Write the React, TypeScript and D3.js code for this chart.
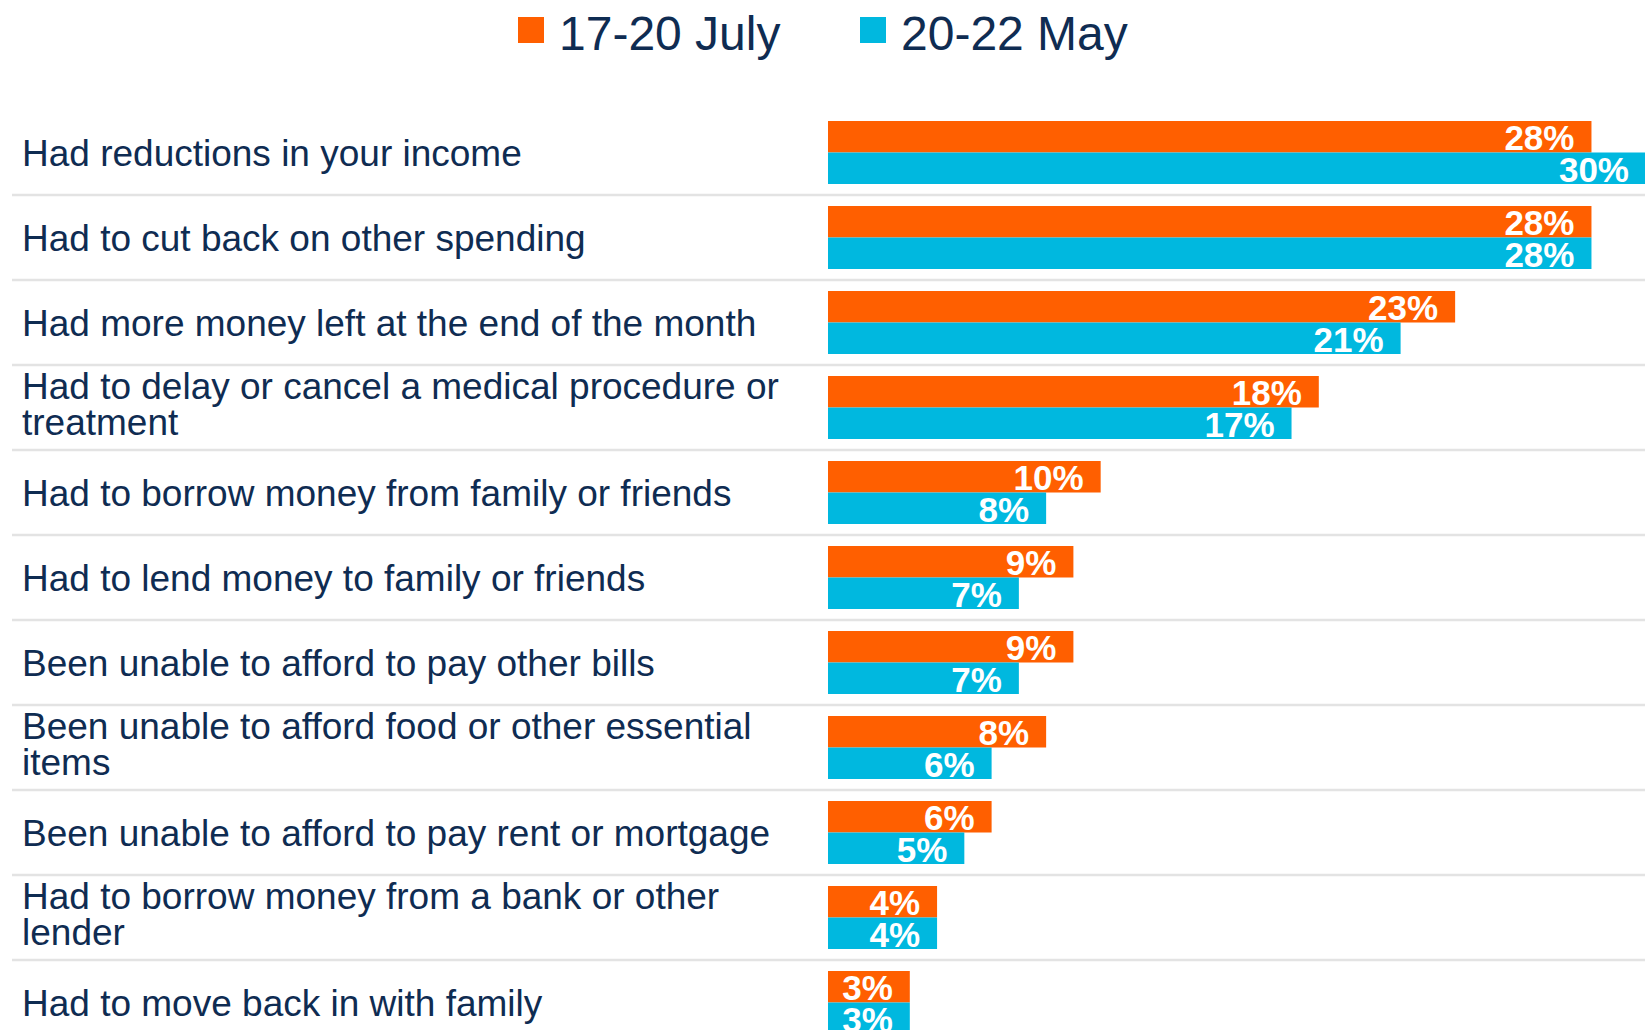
import { useEffect, useRef } from 'react'
import * as d3 from 'd3'

const categories = [
  'Had reductions in your income',
  'Had to cut back on other spending',
  'Had more money left at the end of the month',
  'Had to delay or cancel a medical procedure or\ntreatment',
  'Had to borrow money from family or friends',
  'Had to lend money to family or friends',
  'Been unable to afford to pay other bills',
  'Been unable to afford food or other essential\nitems',
  'Been unable to afford to pay rent or mortgage',
  'Had to borrow money from a bank or other\nlender',
  'Had to move back in with family',
]

const julyValues = [28, 28, 23, 18, 10, 9, 9, 8, 6, 4, 3]
const mayValues = [30, 28, 21, 17, 8, 7, 7, 6, 5, 4, 3]

const seriesNames = ['17-20 July', '20-22 May']
const seriesColors = ['#FF5F00', '#00B8DF']

const width = 1645
const height = 1030

export default function App() {
  const svgRef = useRef<SVGSVGElement>(null)

  useEffect(() => {
    if (!svgRef.current) return

    const svg = d3.select(svgRef.current)
    svg.selectAll('*').remove()

    const font = '"Liberation Sans", Arial, sans-serif'
    const textColor = '#0f2c52'

    // rows
    const y = d3.scaleBand<string>()
      .domain(categories)
      .range([110, 1045])
      .paddingInner(22 / 85)
      .paddingOuter(11 / 85)

    const ySub = d3.scaleBand<string>()
      .domain(seriesNames)
      .range([0, y.bandwidth()])

    const x = d3.scaleLinear()
      .domain([0, 30])
      .range([828, 1646])

    const rows = categories.map((c, i) => ({
      label: c,
      values: [julyValues[i], mayValues[i]],
    }))

    // separators between rows
    const gap = y.step() * y.paddingInner()
    svg.append('g')
      .selectAll('line')
      .data(categories.slice(1))
      .enter().append('line')
      .attr('x1', 12)
      .attr('x2', width)
      .attr('y1', d => (y(d) as number) - gap / 2)
      .attr('y2', d => (y(d) as number) - gap / 2)
      .attr('stroke', '#e3e3e3')
      .attr('stroke-width', 2.5)

    const row = svg.append('g')
      .selectAll('.row')
      .data(rows)
      .enter().append('g')
      .attr('class', 'row')
      .attr('transform', d => `translate(0, ${y(d.label)})`)

    // category labels (wrapped ones sit a bit higher)
    row.append('text')
      .attr('font-family', font)
      .attr('font-size', 37)
      .attr('fill', textColor)
      .each(function (d) {
        const lines = d.label.split('\n')
        const mid = y.bandwidth() / 2
        const off = lines.length === 1 ? 13 : 9.5
        lines.forEach((line, i) => {
          d3.select(this).append('tspan')
            .attr('x', 22)
            .attr('y', mid + off + (i - (lines.length - 1) / 2) * 36.6)
            .text(line)
        })
      })

    // bars
    const bars = row.selectAll('.bar')
      .data(d => d.values.map((v, i) => ({ key: seriesNames[i], value: v, color: seriesColors[i] })))
      .enter().append('g')
      .attr('class', 'bar')

    bars.append('rect')
      .attr('x', x(0))
      .attr('y', d => ySub(d.key) as number)
      .attr('width', d => x(d.value) - x(0))
      .attr('height', ySub.bandwidth())
      .attr('fill', d => d.color)

    bars.append('text')
      .attr('x', d => x(d.value) - 17)
      .attr('y', d => (ySub(d.key) as number) + ySub.bandwidth() - 2.5)
      .attr('text-anchor', 'end')
      .attr('font-family', font)
      .attr('font-size', 35)
      .attr('font-weight', 700)
      .attr('fill', '#ffffff')
      .text(d => `${d.value}%`)

    // legend
    const legendX = [518, 860]
    const legend = svg.append('g')
      .selectAll('.legend-item')
      .data(seriesNames)
      .enter().append('g')
      .attr('class', 'legend-item')
      .attr('transform', (d, i) => `translate(${legendX[i]}, 17)`)

    legend.append('rect')
      .attr('width', 26)
      .attr('height', 26)
      .attr('fill', (d, i) => seriesColors[i])

    legend.append('text')
      .attr('x', 41)
      .attr('y', 33)
      .attr('font-family', font)
      .attr('font-size', 48)
      .attr('fill', textColor)
      .text(d => d)
  }, [])

  return (
    <svg
      ref={svgRef}
      width={width}
      height={height}
      style={{ position: 'absolute', left: 0, top: 0, display: 'block', background: '#fff' }}
    />
  )
}
